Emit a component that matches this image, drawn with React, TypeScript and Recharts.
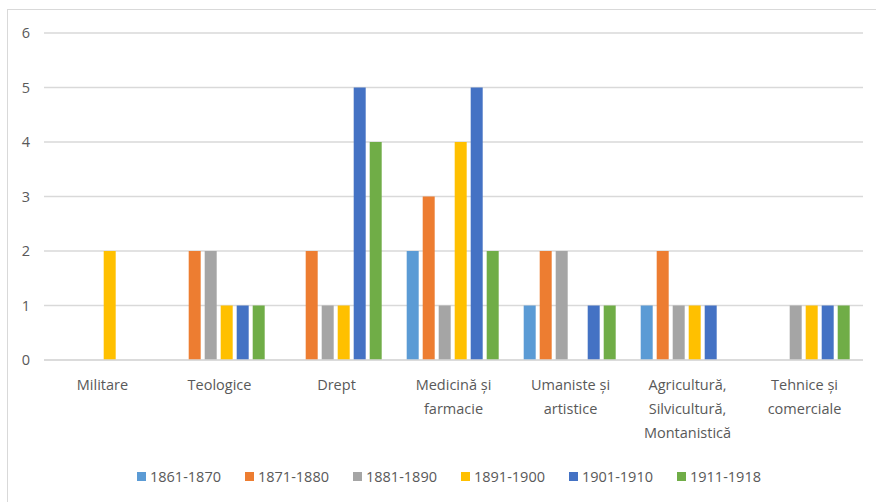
import React from "react";
import { BarChart, Bar, XAxis, YAxis, CartesianGrid, Legend } from "recharts";

const categories = [
  "Militare",
  "Teologice",
  "Drept",
  "Medicină și\nfarmacie",
  "Umaniste și\nartistice",
  "Agricultură,\nSilvicultură,\nMontanistică",
  "Tehnice și\ncomerciale",
];

const s1861 = [null, null, null, 2, 1, 1, null];
const s1871 = [null, 2, 2, 3, 2, 2, null];
const s1881 = [null, 2, 1, 1, 2, 1, 1];
const s1891 = [2, 1, 1, 4, null, 1, 1];
const s1901 = [null, 1, 5, 5, 1, 1, 1];
const s1911 = [null, 1, 4, 2, 1, null, 1];

const seriesNames = ["1861-1870", "1871-1880", "1881-1890", "1891-1900", "1901-1910", "1911-1918"];
const seriesValues = [s1861, s1871, s1881, s1891, s1901, s1911];
const seriesColors = ["#5B9BD5", "#ED7D31", "#A5A5A5", "#FFC000", "#4472C4", "#70AD47"];
const yTicks = [0, 1, 2, 3, 4, 5, 6];

const data = categories.map((c, i) => {
  const row: any = { name: c };
  seriesNames.forEach((s, j) => {
    row[s] = seriesValues[j][i];
  });
  return row;
});

const FONT = "'Open Sans', sans-serif";
const TEXT = "#595959";

const XTick = (props: any) => {
  const { x, y, payload } = props;
  const lines = String(payload.value).split("\n");
  return (
    <g>
      {lines.map((l, i) => (
        <text
          key={i}
          x={x}
          y={y + 30 + i * 24}
          textAnchor="middle"
          fill={TEXT}
          fontSize={14.5}
          fontFamily={FONT}
        >
          {l}
        </text>
      ))}
    </g>
  );
};

const LegendContent = () => (
  <div style={{ position: "relative", width: 876, height: 20 }}>
    {seriesNames.map((s, i) => (
      <div
        key={s}
        style={{
          position: "absolute",
          left: 137 + i * 108,
          top: 0,
          height: 20,
          display: "flex",
          alignItems: "center",
          fontFamily: FONT,
          fontSize: 14.5,
          color: TEXT,
          whiteSpace: "nowrap",
        }}
      >
        <span style={{ display: "inline-block", width: 9, height: 9, background: seriesColors[i], marginRight: 4 }} />
        {s}
      </div>
    ))}
  </div>
);

export default function App() {
  return (
    <div style={{ position: "absolute", left: 0, top: 0, width: 876, height: 502, overflow: "hidden", background: "#fff" }}>
      <div
        style={{
          position: "absolute",
          left: 7,
          top: 9,
          width: 900,
          height: 520,
          border: "1.5px solid #d9d9d9",
          boxSizing: "border-box",
        }}
      />
      <div style={{ position: "absolute", left: 0, top: 0 }}>
        <BarChart
          width={876}
          height={502}
          data={data}
          margin={{ top: 33, right: 13, left: 14, bottom: 16 }}
          barCategoryGap="10%"
          barGap={4}
        >
          <CartesianGrid vertical={false} stroke="#d9d9d9" strokeWidth={1.3} />
          <XAxis
            dataKey="name"
            height={106}
            interval={0}
            tickLine={false}
            tickSize={0}
            tickMargin={0}
            axisLine={{ stroke: "#d9d9d9", strokeWidth: 1.3 }}
            tick={<XTick />}
          />
          <YAxis
            width={30}
            domain={[0, 6]}
            ticks={yTicks}
            interval={0}
            axisLine={false}
            tickLine={false}
            tickSize={0}
            tickMargin={14}
            tick={{ fill: TEXT, fontSize: 14.5, fontFamily: FONT }}
          />
          <Legend verticalAlign="bottom" height={20} content={<LegendContent />} wrapperStyle={{ left: 0, width: 876 }} />
          {seriesNames.map((s, i) => (
            <Bar key={s} dataKey={s} fill={seriesColors[i]} isAnimationActive={false} />
          ))}
        </BarChart>
      </div>
    </div>
  );
}
